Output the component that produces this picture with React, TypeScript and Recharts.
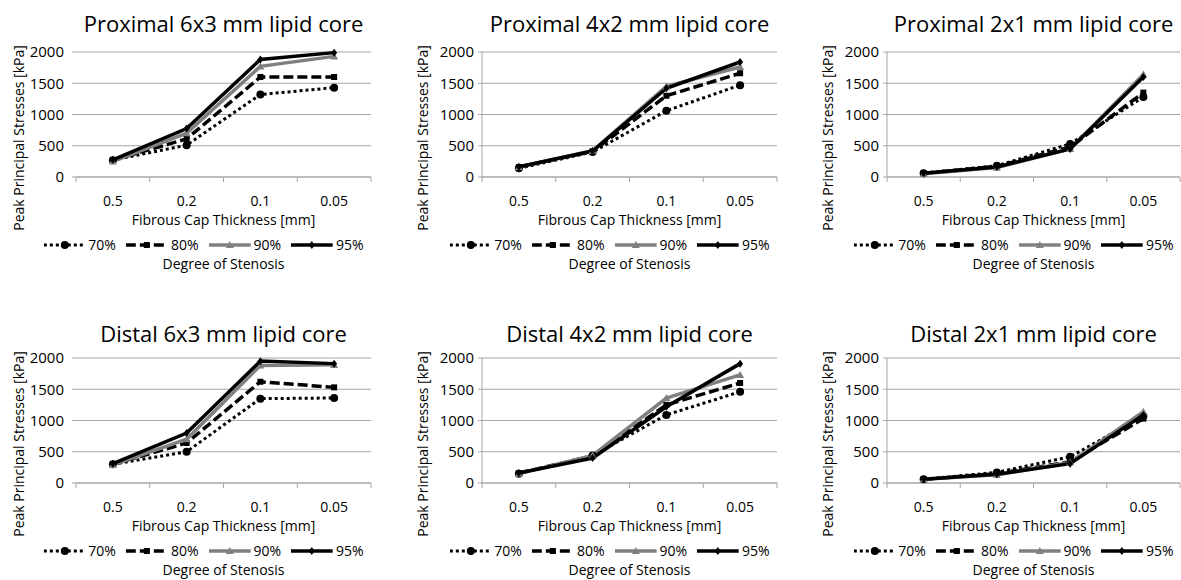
import React from 'react';
import { LineChart, Line, XAxis, YAxis, CartesianGrid, Legend } from 'recharts';

// ---------- data ----------
const categories = ['0.5', '0.2', '0.1', '0.05'];
const stenosisLabels = ['70%', '80%', '90%', '95%'];
const yTicks = [0, 500, 1000, 1500, 2000];

const proximal6x3_70 = [270, 510, 1320, 1430];
const proximal6x3_80 = [270, 610, 1600, 1600];
const proximal6x3_90 = [250, 700, 1770, 1930];
const proximal6x3_95 = [275, 775, 1880, 1990];

const proximal4x2_70 = [140, 400, 1060, 1470];
const proximal4x2_80 = [160, 410, 1300, 1660];
const proximal4x2_90 = [160, 420, 1450, 1760];
const proximal4x2_95 = [165, 415, 1420, 1840];

const proximal2x1_70 = [60, 180, 530, 1280];
const proximal2x1_80 = [60, 170, 480, 1350];
const proximal2x1_90 = [50, 150, 450, 1640];
const proximal2x1_95 = [60, 160, 450, 1600];

const distal6x3_70 = [300, 500, 1350, 1360];
const distal6x3_80 = [300, 640, 1620, 1530];
const distal6x3_90 = [290, 700, 1880, 1890];
const distal6x3_95 = [310, 800, 1950, 1910];

const distal4x2_70 = [150, 440, 1090, 1460];
const distal4x2_80 = [160, 430, 1250, 1600];
const distal4x2_90 = [150, 440, 1360, 1730];
const distal4x2_95 = [160, 400, 1220, 1910];

const distal2x1_70 = [60, 170, 420, 1070];
const distal2x1_80 = [60, 150, 340, 1030];
const distal2x1_90 = [60, 130, 330, 1140];
const distal2x1_95 = [60, 140, 310, 1090];

const panelTitles = [
  'Proximal 6x3 mm lipid core',
  'Proximal 4x2 mm lipid core',
  'Proximal 2x1 mm lipid core',
  'Distal 6x3 mm lipid core',
  'Distal 4x2 mm lipid core',
  'Distal 2x1 mm lipid core',
];

const panelSeries = [
  [proximal6x3_70, proximal6x3_80, proximal6x3_90, proximal6x3_95],
  [proximal4x2_70, proximal4x2_80, proximal4x2_90, proximal4x2_95],
  [proximal2x1_70, proximal2x1_80, proximal2x1_90, proximal2x1_95],
  [distal6x3_70, distal6x3_80, distal6x3_90, distal6x3_95],
  [distal4x2_70, distal4x2_80, distal4x2_90, distal4x2_95],
  [distal2x1_70, distal2x1_80, distal2x1_90, distal2x1_95],
];

// ---------- styles ----------
const FONT = '"Open Sans", "Noto Sans", sans-serif';
const GRID = '#a6a6a6';
const TEXT = '#000000';
const seriesStyles = [
  { color: '#000000', width: 3, dash: '3 3', marker: 'circle' },
  { color: '#000000', width: 3.5, dash: '10 4', marker: 'square' },
  { color: '#808080', width: 3.5, dash: undefined, marker: 'triangle' },
  { color: '#000000', width: 3.5, dash: undefined, marker: 'diamond' },
];

const columnLayouts = [
  { left: 0, width: 400, plotLeft: 76, plotRight: 371, yLabelX: 18, yAxisLine: false, tickMargin: 8 },
  { left: 400, width: 400, plotLeft: 82, plotRight: 377, yLabelX: 22, yAxisLine: true, tickMargin: 4 },
  { left: 800, width: 381, plotLeft: 87, plotRight: 380, yLabelX: 27, yAxisLine: true, tickMargin: 4 },
];
const rowLayouts = [
  { top: 0, titleY: 23 },
  { top: 306, titleY: 27 },
];

const CHART_H = 272;
const PLOT_TOP = 52;
const LEGEND_H = 34;
const XAXIS_H = 61;

function markerShape(kind: string, cx: number, cy: number, color: string, key?: any) {
  if (kind === 'circle') return <circle key={key} cx={cx} cy={cy} r={4} fill={color} />;
  if (kind === 'square') return <rect key={key} x={cx - 3} y={cy - 3} width={6} height={6} fill={color} />;
  if (kind === 'triangle')
    return <polygon key={key} points={`${cx},${cy - 4} ${cx + 4},${cy + 3} ${cx - 4},${cy + 3}`} fill={color} />;
  return <polygon key={key} points={`${cx},${cy - 4} ${cx + 3},${cy} ${cx},${cy + 4} ${cx - 3},${cy}`} fill={color} />;
}

const makeDot = (kind: string, color: string) => (props: any) => {
  const { cx, cy, index } = props;
  if (cx == null || cy == null) return <g key={`d${index}`} />;
  return markerShape(kind, cx, cy, color, `d${index}`);
};

function LegendSample({ s }: { s: any }) {
  return (
    <svg width={42} height={12} style={{ display: 'block' }}>
      <line x1={0} y1={6} x2={42} y2={6} stroke={s.color} strokeWidth={s.width} strokeDasharray={s.dash} />
      {markerShape(s.marker, 21, 6, s.color)}
    </svg>
  );
}

function Panel({ index }: { index: number }) {
  const col = columnLayouts[index % 3];
  const row = rowLayouts[Math.floor(index / 3)];
  const series = panelSeries[index];
  const data = categories.map((c, i) => {
    const o: any = { x: c };
    stenosisLabels.forEach((lab, j) => {
      o[lab] = series[j][i];
    });
    return o;
  });
  const plotW = col.plotRight - col.plotLeft;
  const band = plotW / 4;
  const plotCenter = (col.plotLeft + col.plotRight) / 2;
  const axisY = CHART_H - LEGEND_H - XAXIS_H;

  const XTick = (props: any) => {
    const { x, payload, index: ti } = props;
    return (
      <g>
        <line x1={x - band / 2} x2={x - band / 2} y1={axisY} y2={axisY + 5} stroke={GRID} />
        {ti === categories.length - 1 && (
          <line x1={x + band / 2} x2={x + band / 2} y1={axisY} y2={axisY + 5} stroke={GRID} />
        )}
        <text x={x} y={axisY + 28.5} textAnchor="middle" fontSize={14} fill={TEXT} fontFamily={FONT}>
          {payload.value}
        </text>
      </g>
    );
  };

  const renderLegend = () => (
    <div style={{ position: 'relative', width: col.width, height: LEGEND_H, fontFamily: FONT, color: TEXT }}>
      <div
        style={{
          position: 'absolute',
          left: plotCenter - 20,
          top: -1,
          transform: 'translateX(-50%)',
          display: 'flex',
          alignItems: 'center',
          whiteSpace: 'nowrap',
          height: 15,
          fontSize: 14,
          lineHeight: '15px',
        }}
      >
        {stenosisLabels.map((lab, j) => (
          <div key={lab} style={{ display: 'flex', alignItems: 'center', height: 15, marginRight: j < 3 ? 10 : 0 }}>
            <LegendSample s={seriesStyles[j]} />
            <span style={{ marginLeft: 3, lineHeight: '15px' }}>{lab}</span>
          </div>
        ))}
      </div>
      <div
        style={{
          position: 'absolute',
          left: plotCenter,
          top: 18,
          height: 15,
          transform: 'translateX(-50%)',
          whiteSpace: 'nowrap',
          fontSize: 14,
          lineHeight: '15px',
        }}
      >
        Degree of Stenosis
      </div>
    </div>
  );

  return (
    <div style={{ position: 'absolute', left: col.left, top: row.top, width: col.width, height: 290 }}>
      <div
        style={{
          position: 'absolute',
          left: plotCenter - 200,
          width: 400,
          top: row.titleY - 15,
          height: 30,
          lineHeight: '30px',
          textAlign: 'center',
          fontSize: 22,
          fontFamily: FONT,
          color: TEXT,
          whiteSpace: 'nowrap',
        }}
      >
        {panelTitles[index]}
      </div>
      <div style={{ position: 'absolute', left: 0, top: 0 }}>
        <LineChart
          width={col.width}
          height={CHART_H}
          data={data}
          margin={{ top: PLOT_TOP, right: col.width - col.plotRight, left: 0, bottom: 0 }}
        >
          <CartesianGrid vertical={false} stroke={GRID} strokeWidth={1} />
          <XAxis
            dataKey="x"
            type="category"
            interval={0}
            padding={{ left: band / 2, right: band / 2 }}
            height={XAXIS_H}
            tickLine={false}
            tickSize={0}
            tickMargin={0}
            axisLine={{ stroke: GRID }}
            tick={<XTick />}
            label={() => (
              <text x={plotCenter} y={axisY + 47.5} textAnchor="middle" fontSize={14} fill={TEXT} fontFamily={FONT}>
                Fibrous Cap Thickness [mm]
              </text>
            )}
          />
          <YAxis
            width={col.plotLeft}
            domain={[0, 2000]}
            ticks={yTicks}
            interval={0}
            axisLine={col.yAxisLine ? { stroke: GRID } : false}
            tickLine={{ stroke: GRID }}
            tickSize={4}
            tickMargin={col.tickMargin}
            tick={{ fontSize: 15, fill: TEXT, fontFamily: FONT }}
            label={() => (
              <text
                transform={`translate(${col.yLabelX},${138}) rotate(-90)`}
                textAnchor="middle"
                dominantBaseline="central"
                fontSize={14}
                fill={TEXT}
                fontFamily={FONT}
              >
                Peak Principal Stresses [kPa]
              </text>
            )}
          />
          <Legend verticalAlign="bottom" height={LEGEND_H} content={renderLegend} wrapperStyle={{ left: 0, width: col.width }} />
          {stenosisLabels.map((lab, j) => {
            const s = seriesStyles[j];
            return (
              <Line
                key={lab}
                dataKey={lab}
                name={lab}
                type="linear"
                stroke={s.color}
                strokeWidth={s.width}
                strokeDasharray={s.dash}
                dot={makeDot(s.marker, s.color)}
                activeDot={false}
                isAnimationActive={false}
              />
            );
          })}
        </LineChart>
      </div>
    </div>
  );
}

export default function App() {
  return (
    <div
      style={{
        position: 'absolute',
        left: 0,
        top: 0,
        width: 1181,
        height: 580,
        background: '#ffffff',
        overflow: 'hidden',
        fontFamily: FONT,
      }}
    >
      {panelTitles.map((t, i) => (
        <Panel key={t} index={i} />
      ))}
    </div>
  );
}
